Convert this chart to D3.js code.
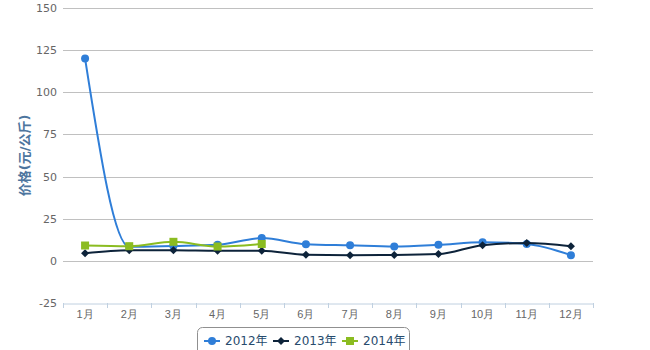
<!DOCTYPE html>
<html><head><meta charset="utf-8">
<script src="https://cdn.jsdelivr.net/npm/d3@7"></script>
<style>body{margin:0;background:#fff}svg{display:block;font-family:"DejaVu Sans","Noto Sans CJK SC",sans-serif}</style>
</head><body><svg id="c" width="650" height="350"></svg>
<script>
const categories = ["1月","2月","3月","4月","5月","6月","7月","8月","9月","10月","11月","12月"];
const s2012 = [120, 8.3, 8.8, 9.5, 13.5, 9.9, 9.2, 8.5, 9.5, 11.1, 10, 3.4];
const s2013 = [4.5, 6.3, 6.3, 6, 6, 3.6, 3.4, 3.5, 4, 9.3, 10.6, 8.7];
const s2014 = [9.1, 8.7, 11.3, 8.5, 10];
const yTicks = [-25, 0, 25, 50, 75, 100, 125, 150];
const seriesNames = ["2012年","2013年","2014年"];
const colors = ["#2f7ed8","#0d233a","#8bbc21"];

const svg = d3.select("#c");
const L = 63, R = 593, T = 8, B = 303;
const x = d3.scaleBand().domain(categories).range([L, R]);
const y = d3.scaleLinear().domain([-25, 150]).range([B, T]);

// grid
svg.append("g").selectAll("line").data(yTicks.filter(d => d > -25)).join("line")
  .attr("x1", L).attr("x2", R).attr("y1", d => Math.round(y(d)) + 0.5).attr("y2", d => Math.round(y(d)) + 0.5)
  .attr("stroke", "#c0c0c0").attr("stroke-width", 1);

// y labels
svg.append("g").selectAll("text").data(yTicks).join("text")
  .attr("x", 57).attr("y", d => y(d) + 4).attr("text-anchor", "end")
  .attr("fill", "#666").attr("font-size", 11).text(d => d);

// x axis
const xa = svg.append("g").attr("transform", `translate(0,${B + 0.5})`)
  .call(d3.axisBottom(x).tickSize(0).tickPadding(7));
xa.select(".domain").attr("stroke", "#c0d0e0");
xa.selectAll("text").attr("fill", "#666").attr("font-size", 11).attr("font-family", null);
const bounds = d3.range(categories.length + 1).map(i => L + i * x.bandwidth());
svg.append("g").selectAll("line").data(bounds).join("line")
  .attr("x1", d => Math.round(d) + 0.5).attr("x2", d => Math.round(d) + 0.5)
  .attr("y1", B).attr("y2", B + 5).attr("stroke", "#c0d0e0");

// y title
svg.append("text").attr("transform", `translate(29,${(T + B) / 2}) rotate(-90)`)
  .attr("text-anchor", "middle").attr("fill", "#4d759e").attr("font-size", 13).attr("font-weight", "bold")
  .text("价格(元/公斤)");

const cx = i => x(categories[i]) + x.bandwidth() / 2;
const line = d3.line().x((d, i) => cx(i)).y(d => y(d)).curve(d3.curveMonotoneX);
const data = [s2012, s2013, s2014];

function marker(g, k, px, py) {
  if (k === 0) g.append("circle").attr("cx", px).attr("cy", py).attr("r", 4).attr("fill", colors[0]);
  else if (k === 1) g.append("path").attr("d", `M${px},${py-4}L${px+4},${py}L${px},${py+4}L${px-4},${py}Z`).attr("fill", colors[1]);
  else g.append("rect").attr("x", px - 4).attr("y", py - 4).attr("width", 8).attr("height", 8).attr("fill", colors[2]);
}

data.forEach((s, k) => {
  const g = svg.append("g");
  g.append("path").attr("d", line(s)).attr("fill", "none").attr("stroke", colors[k]).attr("stroke-width", 2);
  s.forEach((v, i) => marker(g, k, cx(i), y(v)));
});

// legend
svg.append("rect").attr("x", 197.5).attr("y", 327.5).attr("width", 212).attr("height", 40).attr("rx", 5)
  .attr("fill", "#fff").attr("stroke", "#909090");
const lx = [204, 273, 342];
seriesNames.forEach((n, k) => {
  const g = svg.append("g");
  g.append("line").attr("x1", lx[k]).attr("x2", lx[k] + 16).attr("y1", 341).attr("y2", 341)
    .attr("stroke", colors[k]).attr("stroke-width", 2);
  marker(g, k, lx[k] + 8, 341);
  g.append("text").attr("x", lx[k] + 21).attr("y", 345).attr("fill", "#274b6d").attr("font-size", 12).text(n);
});
</script></body></html>
